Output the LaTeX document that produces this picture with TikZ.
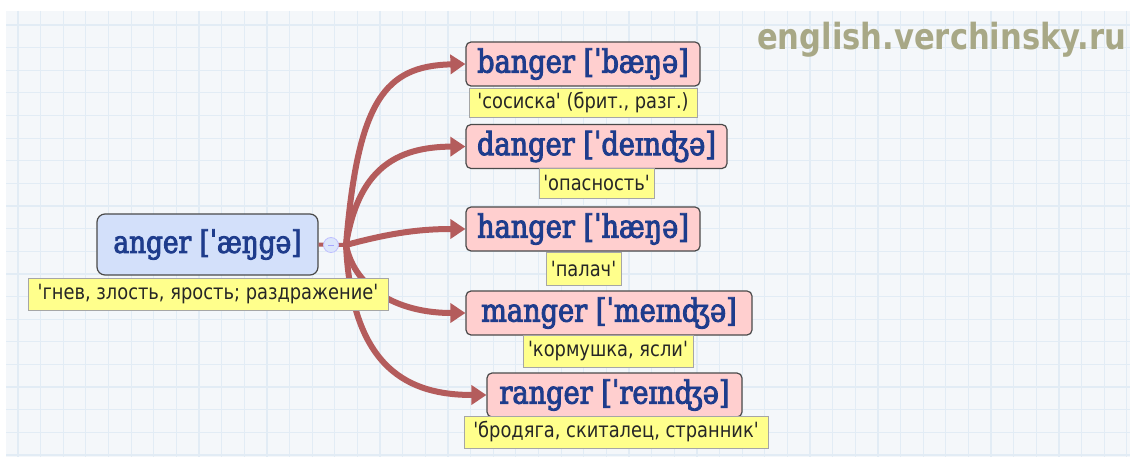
\documentclass[tikz,border=0pt]{standalone}
\usepackage{fontspec}
\usetikzlibrary{arrows.meta}
\newfontfamily\wordfont[FakeStretch=0.85,FakeBold=2.8]{DejaVu Serif}
\newfontfamily\glossfont[FakeStretch=0.85]{DejaVu Sans}
\newfontfamily\markfont[FakeStretch=0.85]{DejaVu Sans}
\definecolor{bgc}{HTML}{F4F7FA}
\definecolor{gridc}{HTML}{E2ECF5}
\definecolor{wordc}{HTML}{1E3C8C}
\definecolor{pinkc}{HTML}{FFCFCF}
\definecolor{bluec}{HTML}{D3E0FA}
\definecolor{yellc}{HTML}{FFFF8C}
\definecolor{arrc}{HTML}{B45C5C}
\definecolor{markc}{HTML}{A8A886}
\definecolor{edgec}{HTML}{4A4A4A}
\tikzset{
  word/.style={draw=edgec, line width=1.2pt, rounded corners=5pt, fill=pinkc, text=wordc,
    font=\wordfont\fontsize{32}{32}\selectfont, inner sep=0pt, minimum height=44pt},
  gloss/.style={draw=black!35, line width=0.6pt, fill=yellc, text=black!85,
    font=\glossfont\fontsize{21}{21}\selectfont, inner sep=0pt, minimum height=30pt},
  branch/.style={draw=arrc, line width=6pt, -{Triangle[length=15pt,width=19pt]}},
}
\begin{document}
\begin{tikzpicture}[x=1pt,y=-1pt]
\useasboundingbox (0,0) rectangle (1136,457);
\fill[white] (0,0) rectangle (1136,457);
\fill[bgc] (6,11) rectangle (1130,457);
\begin{scope}
\clip (6,11) rectangle (1130,457);
\foreach \i in {0,...,49} {
  \draw[gridc, line width=1.2pt] ({18+22.63*\i},11) -- ({18+22.63*\i},457);
}
\foreach \j in {0,...,19} {
  \draw[gridc, line width=1.2pt] (6,{25+22.63*\j}) -- (1130,{25+22.63*\j});
}
\end{scope}

\node[anchor=base west, inner sep=0pt, text=markc, font=\markfont\bfseries\fontsize{36}{36}\selectfont]
  (mark) at (757,50) {english.verchinsky.ru};

\coordinate (J) at (346,245);

% nodes
\node[word, fill=bluec, rounded corners=8pt, minimum width=221pt, minimum height=61pt,
  font=\wordfont\fontsize{31}{31}\selectfont] (anger) at (207.5,244.5) {anger [ˈæŋgə]};
\node[word, minimum width=234pt] (banger) at (583,64) {banger [ˈbæŋə]};
\node[word, minimum width=261pt] (danger) at (596.5,146.5) {danger [ˈdeɪnʤə]};
\node[word, minimum width=234pt] (hanger) at (583,229) {hanger [ˈhæŋə]};
\node[word, minimum width=286pt] (manger) at (609,313) {manger [ˈmeɪnʤə]};
\node[word, minimum width=255pt] (ranger) at (614.5,395) {ranger [ˈreɪnʤə]};

% connectors
\draw[arrc, line width=4pt] (anger.east) -- (J);
\draw[branch] (J) .. controls (358,100) and (385,66) .. (banger.west);
\draw[branch] (J) .. controls (358,170) and (395,147) .. (danger.west);
\draw[branch] (J) .. controls (390,233) and (420,229) .. (hanger.west);
\draw[branch] (J) .. controls (355,290) and (400,313) .. (manger.west);
\draw[branch] (J) .. controls (352,370) and (410,395) .. (ranger.west);
\node[circle, draw=blue!25, fill=bluec!80, line width=0.8pt, minimum size=15pt, inner sep=0pt] (fold) at (331,245) {};
\draw[blue!35, line width=0.8pt] ([xshift=-3pt]fold.center) -- ([xshift=3pt]fold.center);

% glosses
\node[gloss, minimum width=360pt, minimum height=32pt] (g0) at (208,294) {'гнев, злость, ярость; раздражение'};
\node[gloss, minimum width=228pt, minimum height=29pt] (g1) at (583,102.5) {'сосиска' (брит., разг.)};
\node[gloss, minimum width=115pt] (g2) at (596.5,183) {'опасность'};
\node[gloss, minimum width=75pt, minimum height=33pt] (g3) at (583.5,268.5) {'палач'};
\node[gloss, minimum width=170pt, minimum height=32pt] (g4) at (608,351) {'кормушка, ясли'};
\node[gloss, minimum width=304pt, minimum height=32pt] (g5) at (616,432) {'бродяга, скиталец, странник'};
\end{tikzpicture}
\end{document}
